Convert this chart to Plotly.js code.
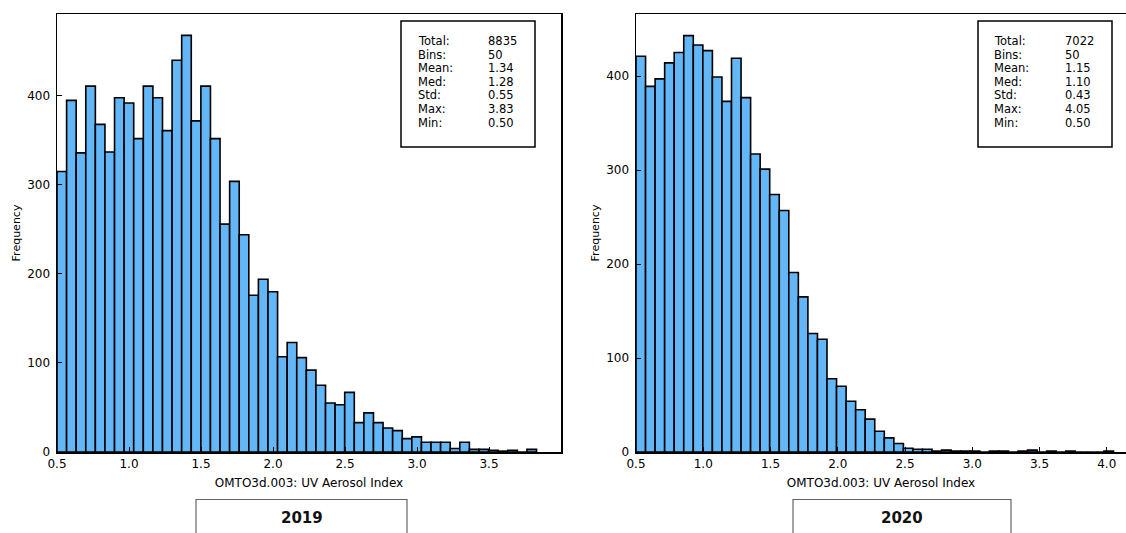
<!DOCTYPE html>
<html>
<head>
<meta charset="utf-8">
<script src="https://cdn.plot.ly/plotly-3.0.1.min.js"></script>
<style>
  html, body { margin: 0; padding: 0; background: #ffffff; overflow: hidden; }
  #chart { width: 1126px; height: 533px; }
</style>
</head>
<body>
<div id="chart"></div>
<script>
// ---- data ----
const yearLabels = ["2019", "2020"];
const statLabels = ["Total:", "Bins:", "Mean:", "Med:", "Std:", "Max:", "Min:"];
const stats2019 = ["8835", "50", "1.34", "1.28", "0.55", "3.83", "0.50"];
const stats2020 = ["7022", "50", "1.15", "1.10", "0.43", "4.05", "0.50"];
const binCount = 50;
const min2019 = 0.50, max2019 = 3.83;
const min2020 = 0.50, max2020 = 4.05;
const counts2019 = [315, 395, 336, 411, 368, 337, 398, 392, 352, 411,
                    398, 361, 440, 468, 372, 411, 352, 256, 304, 244,
                    176, 194, 180, 107, 123, 106, 92, 75, 55, 53,
                    67, 33, 44, 33, 27, 24, 15, 17, 11, 11,
                    11, 4, 11, 3, 3, 2, 1, 2, 0, 3];
const counts2020 = [421, 389, 397, 414, 425, 443, 433, 427, 399, 373,
                    419, 377, 317, 301, 274, 257, 191, 165, 126, 120,
                    78, 70, 54, 45, 35, 22, 15, 9, 4, 3,
                    3, 1, 2, 1, 1, 1, 0, 1, 1, 0,
                    1, 2, 0, 1, 0, 1, 0, 0, 0, 1];
const xTicks2019 = [0.5, 1.0, 1.5, 2.0, 2.5, 3.0, 3.5];
const xTicks2020 = [0.5, 1.0, 1.5, 2.0, 2.5, 3.0, 3.5, 4.0];
const yTicks = [0, 100, 200, 300, 400];
const xTitle = "OMTO3d.003: UV Aerosol Index";
const yTitle = "Frequency";

// ---- build bin centers from the stats ----
function centers(mn, mx, n) {
  const w = (mx - mn) / n;
  const c = [];
  for (let i = 0; i < n; i++) c.push(mn + w * (i + 0.5));
  return { c: c, w: w };
}
const b19 = centers(min2019, max2019, binCount);
const b20 = centers(min2020, max2020, binCount);

const FONT = "DejaVu Sans, Verdana, sans-serif";
const barStyle = { color: "#63b7f7", line: { color: "#000000", width: 1.6 } };

const traces = [
  { type: "bar", x: b19.c, y: counts2019, width: b19.w, marker: barStyle,
    xaxis: "x", yaxis: "y", hoverinfo: "x+y", showlegend: false },
  { type: "bar", x: b20.c, y: counts2020, width: b20.w, marker: barStyle,
    xaxis: "x2", yaxis: "y2", hoverinfo: "x+y", showlegend: false }
];

const W = 1126, H = 533;
const px = v => v / W;
const py = v => 1 - v / H;

function xAxis(domain, range, mirror, ticks) {
  return {
    domain: domain, range: range, showgrid: false, zeroline: false,
    showline: true, linecolor: "#000", linewidth: 1.5, mirror: mirror,
    ticks: "inside", ticklen: 5, tickcolor: "#000", tickwidth: 1,
    tickmode: "array", tickvals: ticks, ticktext: ticks.map(v => v.toFixed(1)),
    tickfont: { family: FONT, size: 12, color: "#000" },
    title: { text: xTitle, font: { family: FONT, size: 12, color: "#000" }, standoff: 8 },
    fixedrange: true
  };
}
function yAxis(anchor, range, mirror) {
  return {
    domain: [py(452), py(14)], range: range, anchor: anchor,
    showgrid: false, zeroline: false,
    showline: true, linecolor: "#000", linewidth: 1.5, mirror: mirror,
    ticks: "inside", ticklen: 5, tickcolor: "#000", tickwidth: 1,
    tickmode: "array", tickvals: yTicks,
    ticklabelstandoff: 3,
    tickfont: { family: FONT, size: 12, color: "#000" },
    title: { text: yTitle, font: { family: FONT, size: 11, color: "#000" }, standoff: 4 },
    fixedrange: true
  };
}

const layout = {
  width: W, height: H,
  margin: { l: 0, r: 0, t: 0, b: 0 },
  paper_bgcolor: "#ffffff", plot_bgcolor: "#ffffff",
  bargap: 0,
  font: { family: FONT, color: "#000" },
  xaxis: Object.assign(xAxis([px(57), px(561)], [0.5, 4.0], true, xTicks2019), { anchor: "y" }),
  yaxis: yAxis("x", [0, 492], true),
  xaxis2: Object.assign(xAxis([px(636), 1], [0.5, 4.143], true, xTicks2020), { anchor: "y2" }),
  yaxis2: yAxis("x2", [0, 466], false),
  shapes: [],
  annotations: []
};

// stats boxes
const boxes = [
  { x0: 401, x1: 535, lx: 416, vx: 486, vals: stats2019 },
  { x0: 978, x1: 1112, lx: 992, vx: 1063, vals: stats2020 }
];
boxes.forEach(b => {
  layout.shapes.push({ type: "rect", xref: "paper", yref: "paper",
    x0: px(b.x0), x1: px(b.x1), y0: py(147), y1: py(21),
    line: { color: "#000", width: 1.5 }, fillcolor: "rgba(0,0,0,0)" });
  statLabels.forEach((lab, i) => {
    const yy = py(41 + i * 13.6);
    layout.annotations.push({ xref: "paper", yref: "paper", x: px(b.lx), y: yy,
      xanchor: "left", yanchor: "middle", showarrow: false, text: lab,
      font: { family: FONT, size: 11.5, color: "#000" } });
    layout.annotations.push({ xref: "paper", yref: "paper", x: px(b.vx), y: yy,
      xanchor: "left", yanchor: "middle", showarrow: false, text: b.vals[i],
      font: { family: FONT, size: 11.5, color: "#000" } });
  });
});

// year label boxes
const yearBoxes = [{ x0: 196, x1: 407 }, { x0: 793, x1: 1011 }];
yearBoxes.forEach((b, i) => {
  layout.shapes.push({ type: "rect", xref: "paper", yref: "paper",
    x0: px(b.x0), x1: px(b.x1), y0: py(540), y1: py(499.5),
    line: { color: "#666", width: 1.2 }, fillcolor: "rgba(0,0,0,0)" });
  layout.annotations.push({ xref: "paper", yref: "paper",
    x: px((b.x0 + b.x1) / 2), y: py(518), xanchor: "center", yanchor: "middle",
    showarrow: false, text: "<b>" + yearLabels[i] + "</b>",
    font: { family: FONT, size: 15, color: "#111" } });
});

Plotly.newPlot("chart", traces, layout, { displayModeBar: false, staticPlot: true });
</script>
</body>
</html>
